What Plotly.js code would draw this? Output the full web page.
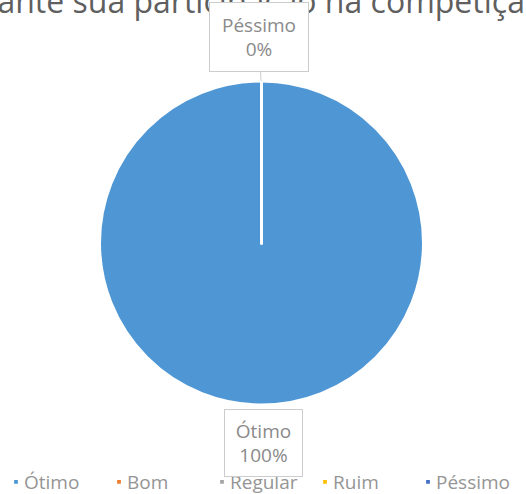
<!DOCTYPE html>
<html>
<head>
<meta charset="utf-8">
<script src="https://cdn.plot.ly/plotly-3.0.1.min.js"></script>
<style>
html,body{margin:0;padding:0;background:#fff;}
#chart{width:526px;height:494px;}
.legendpie{transform: translate(32px, 0px) scale(0.42);}
.legend .scrollbox{transform: translate(-16px, 0px); clip-path: none !important;}
</style>
</head>
<body>
<div id="chart"></div>
<script>
const titleText = "Como você avalia seu desempenho durante sua participação na competição?";
const categories = ["Ótimo", "Bom", "Regular", "Ruim", "Péssimo"];
const values = [100, 0, 0, 0, 0];
const colors = ["#4F97D4", "#ED7D31", "#A5A5A5", "#FFC000", "#4472C4"];

const total = values.reduce((a, b) => a + b, 0);
const pct = v => Math.round(100 * v / total) + "%";

const trace = {
  type: "pie",
  labels: categories,
  values: values,
  sort: false,
  direction: "clockwise",
  rotation: 0,
  textinfo: "none",
  hoverinfo: "label+percent",
  marker: { colors: colors, line: { color: "#ffffff", width: 3 } },
  domain: { x: [99.5 / 526, 423.5 / 526], y: [1 - 405 / 494, 1 - 81 / 494] },
  showlegend: true
};

const labelFont = { family: "Open Sans, sans-serif", size: 19, color: "#8a8a8a" };
const annotations = [
  {
    xref: "paper", yref: "paper", x: 560 / 526, y: 1 - 1 / 494,
    xanchor: "right", yanchor: "middle", showarrow: false,
    text: titleText,
    font: { family: "Open Sans, sans-serif", size: 32, color: "#5f5f5f" }
  },
  {
    xref: "paper", yref: "paper", x: 261 / 526, y: 1 - 81 / 494,
    text: categories[4] + "<br>" + pct(values[4]),
    font: labelFont, bgcolor: "#ffffff", bordercolor: "#cccccc", borderwidth: 1,
    width: 96, height: 66,
    showarrow: true, arrowhead: 0, arrowwidth: 1, arrowcolor: "#cccccc",
    standoff: 0, ax: -2, ay: -44
  },
  {
    xref: "paper", yref: "paper", x: 263 / 526, y: 1 - 443 / 494,
    xanchor: "center", yanchor: "middle", showarrow: false,
    text: categories[0] + "<br>" + pct(values[0]),
    font: labelFont, bgcolor: "#ffffff", bordercolor: "#cccccc", borderwidth: 1,
    width: 75, height: 64
  }
];

const layout = {
  width: 526, height: 494,
  margin: { l: 0, r: 0, t: 0, b: 0, autoexpand: false },
  paper_bgcolor: "#ffffff",
  showlegend: true,
  legend: {
    orientation: "h", x: 0, xanchor: "left", y: 1 - 482 / 494, yanchor: "middle",
    font: { family: "Open Sans, sans-serif", size: 19, color: "#959595" },
    entrywidth: 58, traceorder: "normal", bgcolor: "rgba(0,0,0,0)"
  },
  annotations: annotations
};

Plotly.newPlot("chart", [trace], layout, { displayModeBar: false, staticPlot: true });
</script>
</body>
</html>
